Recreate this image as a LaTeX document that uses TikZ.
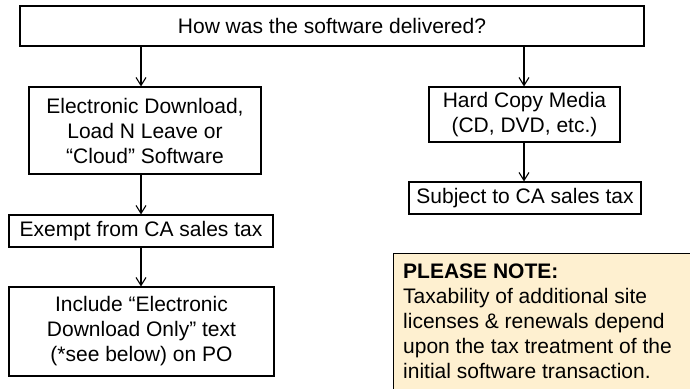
\documentclass[tikz,border=0pt]{standalone}
\usepackage{fontspec}
\setmainfont{Liberation Sans}
\usetikzlibrary{arrows.meta}
\definecolor{notefill}{RGB}{254,240,208}
\begin{document}
\begin{tikzpicture}[x=1pt,y=-1pt,
  box/.style={draw=black,line width=1.1pt,inner sep=0pt,align=center,font=\fontsize{21}{25}\selectfont},
  arr/.style={line width=1.1pt,-{Straight Barb[length=8pt,width=10pt,line width=1.1pt]}},
  notebox/.style={draw=black,line width=0.9pt,fill=notefill,inner sep=0pt,anchor=north west},
  notetxt/.style={anchor=north west,inner sep=0pt,align=left,font=\fontsize{21}{24.8}\selectfont}]
\useasboundingbox (0,0) rectangle (690,388);
\clip (0,0) rectangle (690,388);
\fill[white] (0,0) rectangle (690,388);

\node[box,minimum width=624pt,minimum height=40pt] (q) at (332,26) {How was the software delivered?};
\node[box,minimum width=232pt,minimum height=87pt] (elec) at (145,130.5) {Electronic Download,\\Load N Leave or\\“Cloud” Software};
\node[box,minimum width=191pt,minimum height=55pt] (hard) at (524.5,114.5) {Hard Copy Media\\(CD, DVD, etc.)};
\node[box,minimum width=232pt,minimum height=32pt] (subj) at (525,198) {Subject to CA sales tax};
\node[box,minimum width=264pt,minimum height=32pt] (ex) at (141,231) {Exempt from CA sales tax};
\node[box,minimum width=265pt,minimum height=89pt] (inc) at (141.5,331.5) {Include “Electronic\\Download Only” text\\(*see below) on PO};

\node[notebox,minimum width=320pt,minimum height=150pt] (note) at (393,253) {};
\node[notetxt] (notetext) at (403,264) {\textbf{PLEASE NOTE:}\\Taxability of additional site\\licenses \& renewals depend\\upon the tax treatment of the\\initial software transaction.};

\coordinate (cl) at (141,0);
\coordinate (cr) at (524,0);
\draw[arr] (cl |- q.south) -- (cl |- elec.north);
\draw[arr] (cr |- q.south) -- (cr |- hard.north);
\draw[arr] (cr |- hard.south) -- (cr |- subj.north);
\draw[arr] (cl |- elec.south) -- (cl |- ex.north);
\draw[arr] (cl |- ex.south) -- (cl |- inc.north);
\end{tikzpicture}
\end{document}
